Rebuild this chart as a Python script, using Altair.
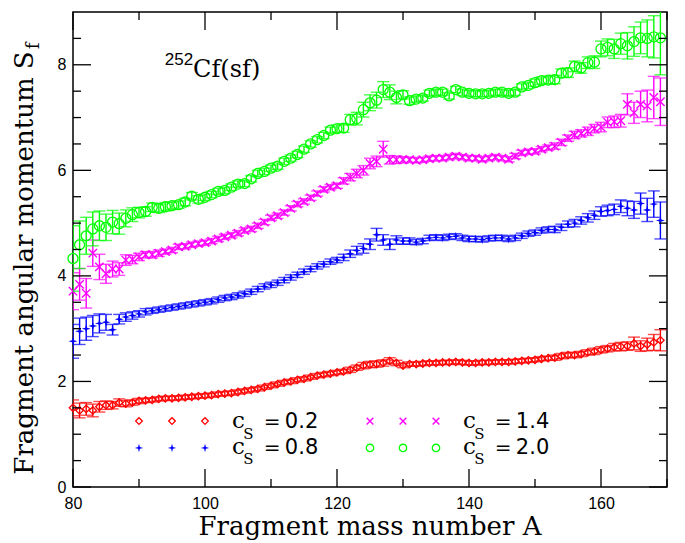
import altair as alt
import pandas as pd

A = list(range(80, 170))

s02 = [1.50, 1.45, 1.48, 1.45, 1.52, 1.55, 1.55, 1.60, 1.58, 1.60,
       1.63, 1.64, 1.65, 1.67, 1.68, 1.68, 1.69, 1.70, 1.71, 1.72,
       1.73, 1.74, 1.76, 1.77, 1.78, 1.80, 1.82, 1.84, 1.86, 1.89,
       1.92, 1.95, 1.98, 2.00, 2.03, 2.05, 2.08, 2.11, 2.13, 2.15,
       2.17, 2.19, 2.22, 2.26, 2.30, 2.32, 2.33, 2.35, 2.39, 2.35,
       2.30, 2.33, 2.33, 2.34, 2.35, 2.35, 2.36, 2.36, 2.37, 2.36,
       2.35, 2.35, 2.36, 2.36, 2.37, 2.37, 2.37, 2.38, 2.39, 2.40,
       2.41, 2.43, 2.44, 2.45, 2.48, 2.50, 2.50, 2.52, 2.55, 2.57,
       2.60, 2.62, 2.65, 2.66, 2.67, 2.72, 2.67, 2.70, 2.74, 2.78]
e02 = [0.15, 0.14, 0.12, 0.12, 0.10, 0.08, 0.07, 0.07, 0.06, 0.05,
       0.05, 0.04, 0.04, 0.04, 0.04, 0.04, 0.04, 0.04, 0.04, 0.04,
       0.04, 0.04, 0.04, 0.04, 0.04, 0.04, 0.04, 0.04, 0.04, 0.04,
       0.04, 0.04, 0.04, 0.04, 0.04, 0.04, 0.04, 0.04, 0.04, 0.04,
       0.04, 0.04, 0.05, 0.05, 0.06, 0.06, 0.06, 0.06, 0.06, 0.05,
       0.04, 0.04, 0.04, 0.04, 0.04, 0.04, 0.04, 0.04, 0.04, 0.04,
       0.04, 0.04, 0.04, 0.04, 0.04, 0.04, 0.04, 0.04, 0.04, 0.04,
       0.04, 0.04, 0.04, 0.05, 0.05, 0.05, 0.05, 0.05, 0.05, 0.06,
       0.06, 0.06, 0.07, 0.08, 0.08, 0.12, 0.10, 0.12, 0.15, 0.20]

s08 = [2.76, 2.95, 3.00, 3.05, 3.10, 3.12, 2.98, 3.18, 3.22, 3.25,
       3.28, 3.32, 3.34, 3.36, 3.38, 3.40, 3.42, 3.44, 3.46, 3.48,
       3.50, 3.52, 3.55, 3.58, 3.60, 3.63, 3.66, 3.70, 3.75, 3.80,
       3.83, 3.87, 3.92, 3.97, 4.02, 4.08, 4.13, 4.18, 4.22, 4.27,
       4.30, 4.35, 4.42, 4.48, 4.52, 4.60, 4.78, 4.68, 4.60, 4.68,
       4.66, 4.66, 4.64, 4.66, 4.72, 4.73, 4.72, 4.74, 4.75, 4.72,
       4.70, 4.70, 4.69, 4.71, 4.72, 4.72, 4.70, 4.72, 4.76, 4.80,
       4.82, 4.86, 4.88, 4.88, 4.92, 4.98, 5.00, 5.05, 5.10, 5.15,
       5.22, 5.24, 5.26, 5.32, 5.28, 5.25, 5.37, 5.25, 5.36, 5.05]
e08 = [0.32, 0.25, 0.22, 0.20, 0.18, 0.15, 0.10, 0.09, 0.08, 0.07,
       0.06, 0.06, 0.05, 0.05, 0.05, 0.05, 0.05, 0.05, 0.05, 0.05,
       0.05, 0.05, 0.05, 0.05, 0.05, 0.05, 0.05, 0.05, 0.05, 0.05,
       0.05, 0.05, 0.05, 0.05, 0.05, 0.05, 0.05, 0.05, 0.05, 0.05,
       0.05, 0.06, 0.07, 0.08, 0.09, 0.10, 0.12, 0.10, 0.10, 0.08,
       0.06, 0.06, 0.05, 0.05, 0.05, 0.05, 0.05, 0.05, 0.05, 0.05,
       0.05, 0.05, 0.05, 0.05, 0.05, 0.05, 0.05, 0.05, 0.05, 0.05,
       0.05, 0.05, 0.05, 0.06, 0.06, 0.06, 0.07, 0.07, 0.08, 0.08,
       0.09, 0.10, 0.10, 0.12, 0.14, 0.16, 0.20, 0.22, 0.25, 0.35]

s14 = [3.71, 3.84, 3.67, 4.43, 4.17, 4.04, 4.13, 4.13, 4.30, 4.31,
       4.36, 4.40, 4.40, 4.43, 4.46, 4.49, 4.55, 4.56, 4.59, 4.61,
       4.63, 4.66, 4.70, 4.74, 4.77, 4.81, 4.86, 4.89, 4.95, 5.02,
       5.10, 5.14, 5.20, 5.28, 5.36, 5.41, 5.48, 5.56, 5.64, 5.68,
       5.71, 5.80, 5.87, 5.94, 6.00, 6.13, 6.17, 6.40, 6.20, 6.20,
       6.20, 6.20, 6.19, 6.20, 6.22, 6.23, 6.23, 6.25, 6.27, 6.25,
       6.23, 6.23, 6.21, 6.23, 6.25, 6.23, 6.21, 6.27, 6.33, 6.35,
       6.36, 6.40, 6.43, 6.46, 6.53, 6.61, 6.67, 6.70, 6.74, 6.79,
       6.82, 6.91, 6.92, 6.94, 7.25, 7.09, 7.25, 7.22, 7.38, 7.30]
e14 = [0.35, 0.30, 0.28, 0.25, 0.24, 0.18, 0.15, 0.12, 0.10, 0.08,
       0.07, 0.06, 0.06, 0.06, 0.05, 0.05, 0.05, 0.05, 0.05, 0.05,
       0.05, 0.05, 0.05, 0.05, 0.05, 0.05, 0.05, 0.05, 0.05, 0.05,
       0.05, 0.05, 0.05, 0.05, 0.05, 0.05, 0.05, 0.05, 0.05, 0.05,
       0.05, 0.06, 0.07, 0.08, 0.09, 0.10, 0.10, 0.15, 0.08, 0.07,
       0.06, 0.05, 0.05, 0.05, 0.05, 0.05, 0.05, 0.05, 0.05, 0.05,
       0.05, 0.05, 0.05, 0.05, 0.05, 0.05, 0.05, 0.05, 0.05, 0.05,
       0.05, 0.05, 0.05, 0.06, 0.06, 0.06, 0.07, 0.07, 0.08, 0.08,
       0.09, 0.10, 0.11, 0.12, 0.20, 0.20, 0.25, 0.30, 0.40, 0.45]

s20 = [4.33, 4.59, 4.76, 4.89, 4.95, 4.92, 5.02, 4.99, 5.09, 5.16,
       5.20, 5.22, 5.30, 5.28, 5.31, 5.33, 5.35, 5.40, 5.51, 5.45,
       5.49, 5.54, 5.60, 5.62, 5.68, 5.74, 5.75, 5.84, 5.94, 5.98,
       6.04, 6.08, 6.17, 6.23, 6.30, 6.40, 6.50, 6.58, 6.66, 6.76,
       6.79, 6.80, 6.96, 6.98, 7.15, 7.28, 7.33, 7.53, 7.48, 7.38,
       7.43, 7.32, 7.35, 7.37, 7.46, 7.48, 7.48, 7.41, 7.53, 7.48,
       7.46, 7.45, 7.45, 7.46, 7.48, 7.48, 7.46, 7.48, 7.58, 7.61,
       7.66, 7.70, 7.71, 7.72, 7.84, 7.85, 7.97, 7.94, 8.04, 8.05,
       8.30, 8.33, 8.30, 8.40, 8.36, 8.44, 8.51, 8.50, 8.53, 8.51]
e20 = [0.62, 0.45, 0.35, 0.32, 0.28, 0.25, 0.22, 0.20, 0.16, 0.13,
       0.10, 0.09, 0.08, 0.08, 0.08, 0.07, 0.07, 0.07, 0.07, 0.07,
       0.06, 0.06, 0.06, 0.06, 0.06, 0.06, 0.06, 0.06, 0.06, 0.06,
       0.06, 0.06, 0.06, 0.06, 0.06, 0.06, 0.06, 0.06, 0.06, 0.06,
       0.07, 0.08, 0.10, 0.12, 0.14, 0.15, 0.15, 0.15, 0.14, 0.12,
       0.08, 0.07, 0.06, 0.06, 0.06, 0.06, 0.06, 0.06, 0.06, 0.06,
       0.06, 0.06, 0.06, 0.06, 0.06, 0.06, 0.06, 0.06, 0.06, 0.06,
       0.07, 0.07, 0.07, 0.08, 0.08, 0.09, 0.10, 0.10, 0.11, 0.12,
       0.15, 0.16, 0.18, 0.20, 0.25, 0.28, 0.30, 0.35, 0.40, 0.70]

labels = ["0.2", "0.8", "1.4", "2.0"]
colors = ["#ff0000", "#0000ff", "#ff00ff", "#00ff00"]

x_major = [80, 100, 120, 140, 160]
x_minor = [90, 110, 130, 150, 170]
y_major = [0, 2, 4, 6, 8]
y_minor = [0.5, 1, 1.5, 2.5, 3, 3.5, 4.5, 5, 5.5, 6.5, 7, 7.5, 8.5]

W, H = 594, 475
SERIF = "DejaVu Serif"
SANS = "Liberation Sans"

rows = []
for lab, vals, errs in zip(labels, [s02, s08, s14, s20], [e02, e08, e14, e20]):
    for a, v, e in zip(A, vals, errs):
        rows.append({"A": a, "S": v, "lo": v - e, "hi": v + e, "cs": lab})
df = pd.DataFrame(rows)

xs = alt.Scale(domain=[80, 170], nice=False, zero=False)
ys = alt.Scale(domain=[0, 9], nice=False, zero=False)
xaxis = alt.Axis(values=x_major, ticks=False, tickSize=0, domain=False, grid=False,
                 title=None, labelFont=SANS, labelFontSize=16, labelColor="black",
                 labelPadding=8, labelFlush=False)
yaxis = alt.Axis(values=y_major, ticks=False, tickSize=0, domain=False, grid=False,
                 title=None, labelFont=SANS, labelFontSize=16, labelColor="black",
                 labelPadding=7, labelFlush=False)


def X(f):
    return alt.X(f, type="quantitative", scale=xs, axis=xaxis)


def Y(f):
    return alt.Y(f, type="quantitative", scale=ys, axis=yaxis)


star = "M0,-1L0.22,-0.22L1,0L0.22,0.22L0,1L-0.22,0.22L-1,0L-0.22,-0.22Z"
xpath = "M-1,-1L1,1M-1,1L1,-1"
marker = {
    "0.2": dict(shape="diamond", filled=False, size=55, strokeWidth=1.3),
    "0.8": dict(shape=star, filled=True, size=80, strokeWidth=0.5),
    "1.4": dict(shape=xpath, filled=False, size=70, strokeWidth=1.4),
    "2.0": dict(shape="circle", filled=False, size=100, strokeWidth=1.3),
}
legend_marker = {
    "0.2": dict(shape="diamond", filled=False, size=45, strokeWidth=1.3),
    "0.8": dict(shape=star, filled=True, size=70, strokeWidth=0.5),
    "1.4": dict(shape=xpath, filled=False, size=45, strokeWidth=1.4),
    "2.0": dict(shape="circle", filled=False, size=55, strokeWidth=1.3),
}

layers = []
base = alt.Chart(df)
for lab, col in zip(labels, colors):
    sub = base.transform_filter(alt.datum.cs == lab)
    layers.append(sub.mark_rule(color=col, strokeWidth=1.4, clip=True).encode(
        x=X("A"), y=Y("lo"), y2="hi"))
    for f in ["lo", "hi"]:
        layers.append(sub.mark_tick(color=col, orient="horizontal", size=12,
                                    thickness=1.4, clip=True).encode(x=X("A"), y=Y(f)))
    layers.append(sub.mark_point(color=col, opacity=1, **marker[lab]).encode(
        x=X("A"), y=Y("S")))

# in-plot legend
leg_x = [[90, 95, 100], [90, 95, 100], [125, 130, 135], [125, 130, 135]]
leg_y = [1.25, 0.74, 1.25, 0.74]
text_x = [104.1, 104.1, 139.1, 139.1]
text_y = [1.11, 0.63, 1.11, 0.63]
for lab, col, lx, ly, tx, ty in zip(labels, colors, leg_x, leg_y, text_x, text_y):
    d = pd.DataFrame({"x": lx, "y": [ly] * 3})
    layers.append(alt.Chart(d).mark_point(color=col, opacity=1, **legend_marker[lab]).encode(
        x=X("x"), y=Y("y")))
    parts = [(tx, ty, "c", SERIF, 23), (tx + 1.7, ty - 0.2, "S", SERIF, 15),
             (tx + 4.8, ty, "=", "DejaVu Sans", 20), (tx + 8.0, ty, lab, "DejaVu Sans", 21)]
    for px, py, t, fnt, fs in parts:
        dt = pd.DataFrame({"x": [px], "y": [py], "t": [t]})
        layers.append(alt.Chart(dt).mark_text(align="left", baseline="alphabetic", font=fnt,
                                              fontSize=fs, color="black").encode(
            x=X("x"), y=Y("y"), text="t:N"))

# 252Cf(sf)
for px, py, t, fnt, fs in [(93.9, 7.99, "252", SANS, 17), (98.2, 7.76, "Cf(sf)", SERIF, 24)]:
    dt = pd.DataFrame({"x": [px], "y": [py], "t": [t]})
    layers.append(alt.Chart(dt).mark_text(align="left", baseline="alphabetic", font=fnt,
                                          fontSize=fs, color="black").encode(
        x=X("x"), y=Y("y"), text="t:N"))

# inward ticks
MAJ, MIN = 18, 8
for vals, ln in [(x_major, MAJ), (x_minor, MIN)]:
    d = pd.DataFrame({"v": vals})
    layers.append(alt.Chart(d).mark_rule(color="black", strokeWidth=1.3).encode(
        x=X("v"), y=alt.value(H), y2=alt.value(H - ln)))
    layers.append(alt.Chart(d).mark_rule(color="black", strokeWidth=1.3).encode(
        x=X("v"), y=alt.value(0), y2=alt.value(ln)))
for vals, ln in [(y_major, MAJ), (y_minor, MIN)]:
    d = pd.DataFrame({"v": vals})
    layers.append(alt.Chart(d).mark_rule(color="black", strokeWidth=1.3).encode(
        y=Y("v"), x=alt.value(0), x2=alt.value(ln)))
    layers.append(alt.Chart(d).mark_rule(color="black", strokeWidth=1.3).encode(
        y=Y("v"), x=alt.value(W), x2=alt.value(W - ln)))

# axis titles
tdf = pd.DataFrame({"t": ["Fragment mass number A"]})
layers.append(alt.Chart(tdf).mark_text(align="center", baseline="alphabetic", font=SERIF,
                                       fontSize=26, color="black").encode(
    x=alt.value(W / 2), y=alt.value(523), text="t:N"))
ydf = pd.DataFrame({"t": ["Fragment angular momentum S"]})
layers.append(alt.Chart(ydf).mark_text(align="center", baseline="alphabetic", font=SERIF,
                                       fontSize=26, angle=270, color="black").encode(
    x=alt.value(-40), y=alt.value(251), text="t:N"))
fdf = pd.DataFrame({"t": ["f"]})
layers.append(alt.Chart(fdf).mark_text(align="center", baseline="alphabetic", font=SERIF,
                                       fontSize=18, angle=270, color="black").encode(
    x=alt.value(-34), y=alt.value(34), text="t:N"))

chart = alt.layer(*layers).properties(
    width=W, height=H,
    autosize=alt.AutoSizeParams(type="none"),
    padding={"left": 65, "top": 4, "right": 10, "bottom": 56},
    background="white",
).configure_view(stroke="black", strokeWidth=1.5)

chart.save("out.html", embed_options={"renderer": "svg", "actions": False})
